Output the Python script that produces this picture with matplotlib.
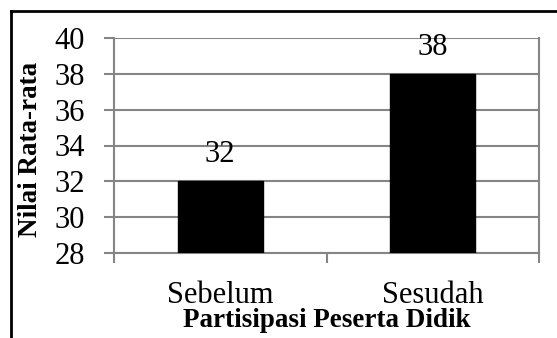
import matplotlib
matplotlib.use("Agg")
import matplotlib.pyplot as plt
from matplotlib.lines import Line2D
import numpy as np

categories = ["Sebelum", "Sesudah"]
values = [32, 38]
y_ticks = [28, 30, 32, 34, 36, 38, 40]
x_title = "Partisipasi Peserta Didik"
y_title = "Nilai Rata-rata"

plt.rcParams["font.family"] = ["Liberation Serif", "DejaVu Serif"]
GRAY = "#858585"

fig = plt.figure(figsize=(5.57, 3.38), dpi=100)
ax = fig.add_axes([114/557, 1-253/338, 425/557, 215/338])

x = np.arange(len(categories))
bars = ax.bar(x, values, width=0.4, color="black", edgecolor="black", zorder=3)
for xi, v in zip(x, values):
    ax.annotate(f"{v}", (xi, v), xytext=(0, 13.7), textcoords="offset points",
                ha="center", va="baseline", fontsize=22, zorder=4)

ax.set_xlim(-0.5, len(categories) - 0.5)
ax.set_ylim(28, 40)
ax.set_yticks(y_ticks)
ax.set_yticklabels([str(t) for t in y_ticks], fontsize=22)
ax.set_xticks(x)
ax.set_xticklabels(categories, fontsize=22)
ax.set_xticks(np.arange(len(categories) + 1) - 0.5, minor=True)

ax.tick_params(axis="x", which="major", length=0, pad=20.5)
ax.tick_params(axis="x", which="minor", length=7.2, width=1.5, color=GRAY, direction="out")
ax.tick_params(axis="y", which="major", length=7.2, width=1.5, color=GRAY, pad=13.7, direction="out")

ax.grid(axis="y", color=GRAY, linewidth=1.5, zorder=0)
for s in ["left", "right", "bottom", "top"]:
    ax.spines[s].set_color(GRAY)
    ax.spines[s].set_linewidth(1.5)
ax.spines["top"].set_visible(False)

ax.set_xlabel(x_title, fontsize=19.5, fontweight="bold")
ax.xaxis.set_label_coords(0.5, -0.255)
ax.set_ylabel(y_title, fontsize=19.5, fontweight="bold")
ax.yaxis.set_label_coords(-0.167, 0.484)

# outer frame (cropped: only left and top edges visible)
fig.add_artist(Line2D([11/557, 11/557], [0, 1-11/338], transform=fig.transFigure, color="black", linewidth=2))
fig.add_artist(Line2D([11/557, 1], [1-11/338, 1-11/338], transform=fig.transFigure, color="black", linewidth=2))

fig.savefig("out.png", dpi=100)
